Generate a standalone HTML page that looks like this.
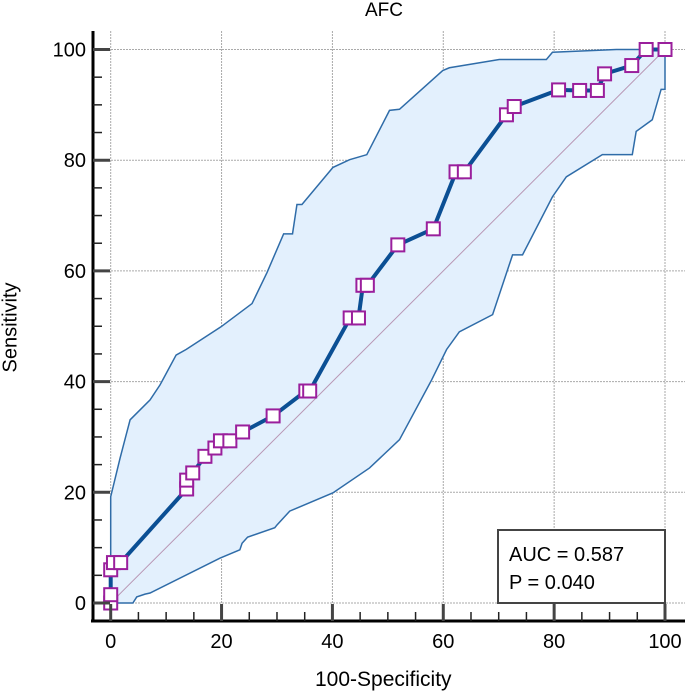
<!DOCTYPE html>
<html><head><meta charset="utf-8"><style>
body{margin:0;background:#fff}
svg{display:block;font-family:"Liberation Sans",Arial,sans-serif}
</style></head><body>
<svg id="c" width="685" height="693"></svg>
<script>
const rocX=[0,0,0,0.5,1.8,13.7,13.7,14.8,17,18.8,19.8,21.5,23.8,29.3,35.2,35.9,43.2,44.7,45.5,46.3,51.8,58.2,62.3,63.8,71.4,72.8,80.8,84.6,87.8,89.1,94,96.6,100];
const rocY=[0,1.5,6,7.3,7.3,20.6,22.2,23.5,26.5,28,29.3,29.3,30.9,33.8,38.3,38.3,51.5,51.5,57.4,57.4,64.7,67.6,77.9,77.9,88.2,89.7,92.7,92.6,92.6,95.6,97.1,100,100];
const upX=[0,0,1.7,3.5,7.1,8.9,11.8,13.6,19.9,25.5,28.2,31.2,32.8,33.6,34.5,40.1,43.1,46.2,50.3,52.1,59.9,61.1,70.1,78.6,79.7,91.2,100];
const upY=[0,19.2,26.2,33.1,36.7,39.4,44.8,45.8,49.9,54.1,59.7,66.7,66.7,72.0,72.0,78.7,80.1,81.0,89.0,89.2,96.2,96.7,98.2,98.2,99.5,100,100];
const loX=[0,4.0,4.7,6.2,7.1,19.7,23.3,23.7,24.7,29.6,30,32.3,40.1,46.7,52.1,57.9,60.6,62.9,68.9,72.5,74.3,79.7,82.2,88.7,94.1,94.8,97.7,99.3,100,100];
const loY=[0,0,1.1,1.6,1.8,8.1,9.6,10.8,11.9,13.6,14.1,16.6,19.9,24.4,29.5,40.3,45.8,49.0,52.1,62.9,62.9,73.4,77.0,81.0,81.0,85.2,87.3,92.8,92.8,100];
const xTicks=[0,20,40,60,80,100];
const yTicks=[0,20,40,60,80,100];
const aucText="AUC = 0.587", pText="P = 0.040";

const NS="http://www.w3.org/2000/svg";
const svg=document.getElementById('c');
const sx=v=>110.7+v*5.543, sy=v=>603-v*5.535;
function mk(t,a,p){const e=document.createElementNS(NS,t);for(const k in a)e.setAttribute(k,a[k]);(p||svg).appendChild(e);return e;}
xTicks.forEach(v=>{const l=mk('line',{x1:sx(v),x2:sx(v),y1:31,y2:621,stroke:'#aaa','stroke-width':1,'stroke-dasharray':'2,1'});

});
yTicks.forEach(v=>{const l=mk('line',{x1:93,x2:685,y1:sy(v),y2:sy(v),stroke:'#aaa','stroke-width':1,'stroke-dasharray':'2,1'});

});
let pts=upX.map((x,i)=>sx(x)+','+sy(upY[i]));
for(let i=loX.length-1;i>=0;i--)pts.push(sx(loX[i])+','+sy(loY[i]));
const band=mk('polygon',{points:pts.join(' '),fill:'#e3f0fd',stroke:'none'});


const up=mk('polyline',{points:upX.map((x,i)=>sx(x)+','+sy(upY[i])).join(' '),fill:'none',stroke:'#2f6ca8','stroke-width':1.5});


const lo=mk('polyline',{points:loX.map((x,i)=>sx(x)+','+sy(loY[i])).join(' '),fill:'none',stroke:'#2f6ca8','stroke-width':1.5});


const dg=mk('line',{x1:sx(0),y1:sy(0),x2:sx(100),y2:sy(100),stroke:'#b896b4','stroke-width':1});


const rl=mk('polyline',{points:rocX.map((x,i)=>sx(x)+','+sy(rocY[i])).join(' '),fill:'none',stroke:'#0b4f94','stroke-width':4,'stroke-linejoin':'round'});


rocX.forEach((x,i)=>{const r=mk('rect',{x:sx(x)-6.5,y:sy(rocY[i])-6.5,width:13,height:13,fill:'#fff',stroke:'#9a1f9c','stroke-width':2});

});
const ya=mk('line',{x1:93,x2:93,y1:31,y2:622,stroke:'#000','stroke-width':3});


const xa=mk('line',{x1:91,x2:685,y1:621,y2:621,stroke:'#000','stroke-width':3});


for(let v=0;v<=100;v+=5){const maj=v%20===0;
mk('line',{x1:93,x2:maj?110:102,y1:sy(v),y2:sy(v),stroke:maj?'#444':'#222','stroke-width':maj?3:1.5});
mk('line',{x1:sx(v),x2:sx(v),y1:621,y2:maj?604:612,stroke:maj?'#444':'#222','stroke-width':maj?3:1.5});}
yTicks.forEach(v=>{const t=mk('text',{x:86,y:sy(v)+7,'text-anchor':'end','font-size':20,fill:'#000'});t.textContent=v;

});
xTicks.forEach(v=>{const t=mk('text',{x:sx(v),y:648,'text-anchor':'middle','font-size':20,fill:'#000'});t.textContent=v;

});
const lb=mk('rect',{x:498,y:530,width:167,height:73,fill:'#fff',stroke:'#444','stroke-width':2});


const t1=mk('text',{x:509,y:561,'font-size':20,fill:'#000'});t1.textContent=aucText;


const t2=mk('text',{x:509,y:589,'font-size':20,fill:'#000'});t2.textContent=pText;


</script>
<div style="position:absolute;left:0;top:0;width:685px;height:693px;pointer-events:none">
<div style="position:absolute;left:365px;top:0;font:19px 'Liberation Sans',sans-serif">AFC</div>
<div style="position:absolute;left:315px;top:668px;font:21px 'Liberation Sans',sans-serif">100-Specificity</div>
<div style="position:absolute;left:-39px;top:316px;width:100px;text-align:center;transform:rotate(-90deg);font:20px 'Liberation Sans',sans-serif">Sensitivity</div>
</div>
</body></html>
